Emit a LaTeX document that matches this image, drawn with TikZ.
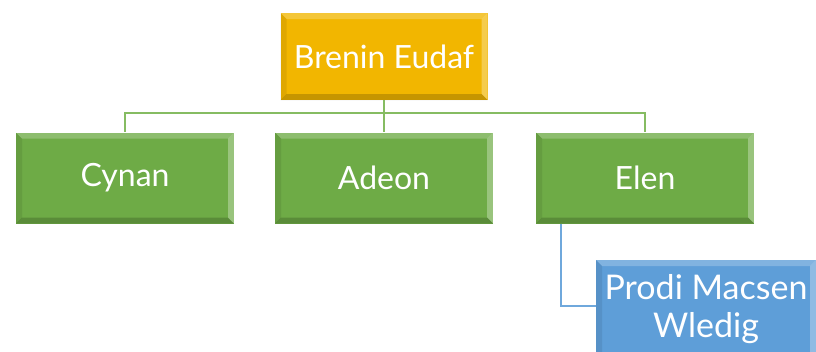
\documentclass[tikz,border=0pt]{standalone}
\usepackage{fontspec}
\setmainfont{Lato}
\usepackage{tikz}
\usetikzlibrary{calc}

\definecolor{gold}{HTML}{F2B600}
\definecolor{leaf}{HTML}{6EAB46}
\definecolor{sky}{HTML}{5E9ED8}
\definecolor{leafline}{HTML}{86BC62}
\definecolor{skyline}{HTML}{6FA8DC}

\begin{document}
\begin{tikzpicture}[x=1pt,y=-1pt]
			\tikzstyle{bevel} = [rectangle,inner sep=0pt,text=white,align=center,font=\fontsize{32}{38}\selectfont,
				path picture={
					\fill[white,opacity=0.22] (path picture bounding box.north west) -- (path picture bounding box.north east) -- ([shift={(-6pt,-6pt)}]path picture bounding box.north east) -- ([shift={(6pt,-6pt)}]path picture bounding box.north west) -- cycle;
					\fill[white,opacity=0.30] (path picture bounding box.north east) -- (path picture bounding box.south east) -- ([shift={(-6pt,6pt)}]path picture bounding box.south east) -- ([shift={(-6pt,-6pt)}]path picture bounding box.north east) -- cycle;
					\fill[black,opacity=0.18] (path picture bounding box.south west) -- (path picture bounding box.south east) -- ([shift={(-6pt,6pt)}]path picture bounding box.south east) -- ([shift={(6pt,6pt)}]path picture bounding box.south west) -- cycle;
					\fill[black,opacity=0.08] (path picture bounding box.north west) -- (path picture bounding box.south west) -- ([shift={(6pt,6pt)}]path picture bounding box.south west) -- ([shift={(6pt,-6pt)}]path picture bounding box.north west) -- cycle;
				}]
			\tikzstyle{king}   = [bevel,fill=gold,minimum width=207pt,minimum height=87pt]
			\tikzstyle{child}  = [bevel,fill=leaf,minimum width=218pt,minimum height=91pt]
			\tikzstyle{grand}  = [bevel,fill=sky,minimum width=220pt,minimum height=112pt,text depth=20pt,font=\fontsize{34}{38}\selectfont]
			
			\useasboundingbox (0,0) rectangle (816,351);
			
			\node[king] (eudaf) at (384,56.5) {Brenin Eudaf};
			
			\node[child] (cynan) at (125,178) {Cynan};
			\node[child] (adeon) at (384,178) {Adeon};
			\node[child] (elen) at (645,178) {Elen};
			
			\node[grand] (macsen) at (706,316) {Prodi Macsen\\Wledig};
			
			\coordinate (bus) at (384,113);
			
			\draw[leafline,line width=1.5pt] (eudaf.south) -- (bus);
			\draw[leafline,line width=1.5pt] (bus) -| (cynan.north);
			\draw[leafline,line width=1.5pt] (bus) -- (adeon.north);
			\draw[leafline,line width=1.5pt] (bus) -| (elen.north);
			
			\draw[skyline,line width=1.5pt] ([xshift=-84pt]elen.south) |- ([yshift=10pt]macsen.west);
		\end{tikzpicture}
\end{document}
